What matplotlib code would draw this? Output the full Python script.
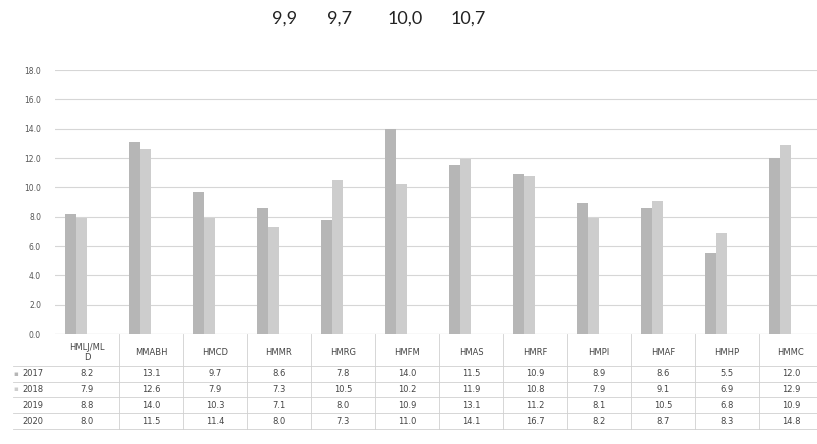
import numpy as np
from matplotlib import pyplot as plt

categories = ['HMLJ/ML\nD', 'MMABH', 'HMCD', 'HMMR', 'HMRG', 'HMFM',
              'HMAS', 'HMRF', 'HMPI', 'HMAF', 'HMHP', 'HMMC']
years = ['2017', '2018', '2019', '2020']
v2017 = [8.2, 13.1, 9.7, 8.6, 7.8, 14.0, 11.5, 10.9, 8.9, 8.6, 5.5, 12.0]
v2018 = [7.9, 12.6, 7.9, 7.3, 10.5, 10.2, 11.9, 10.8, 7.9, 9.1, 6.9, 12.9]
v2019 = [8.8, 14.0, 10.3, 7.1, 8.0, 10.9, 13.1, 11.2, 8.1, 10.5, 6.8, 10.9]
v2020 = [8.0, 11.5, 11.4, 8.0, 7.3, 11.0, 14.1, 16.7, 8.2, 8.7, 8.3, 14.8]
series = [v2017, v2018, v2019, v2020]
bar_colors = ['#b6b6b6', '#cdcdcd']

fig = plt.figure(figsize=(8.17, 4.44), dpi=100)
ax = fig.add_axes([55/817, 1 - 334/444, 768/817, 264/444])

x = np.arange(len(categories))
w = 0.17
# only the first two years have bars in the chart
ax.bar(x - 1.5*w, v2017, w, color=bar_colors[0], zorder=2)
ax.bar(x - 0.5*w, v2018, w, color=bar_colors[1], zorder=2)

ax.set_xlim(-0.5, len(categories) - 0.5)
ax.set_ylim(0, 18)
ax.set_yticks(np.arange(0, 18.1, 2))
ax.set_yticklabels(['%.1f' % t for t in np.arange(0, 18.1, 2)])
ax.tick_params(axis='y', length=0, pad=10, labelsize=5.5, labelcolor='#555555')
ax.set_xticks([])
ax.grid(axis='y', color='#d6d6d6', lw=0.8, zorder=0)
for s in ax.spines.values():
    s.set_visible(False)
ax.axhline(0, color='#c8c8c8', lw=0.8, zorder=1)

# data table under the chart
txt = dict(fontsize=6, color='#444444', ha='center', va='center',
           transform=ax.get_xaxis_transform(), clip_on=False)
head_y = -0.07
row_y = [-0.15, -0.21, -0.27, -0.33]
for i, c in enumerate(categories):
    ax.text(i, head_y, c, linespacing=1.1, **txt)
    for r, vals in enumerate(series):
        ax.text(i, row_y[r], '%.1f' % vals[i], **txt)
for r, yr in enumerate(years):
    ax.text(-0.68, row_y[r], yr, fontsize=6, color='#444444', ha='right', va='center',
            transform=ax.get_xaxis_transform(), clip_on=False)
    if r < 2:
        ax.text(-1.08, row_y[r], '\u25aa', fontsize=5, color=bar_colors[r], ha='right',
                va='center', transform=ax.get_xaxis_transform(), clip_on=False)

line = dict(color='#d0d0d0', lw=0.6, transform=ax.get_xaxis_transform(), clip_on=False)
for i in range(len(categories)):
    ax.plot([i + 0.5, i + 0.5], [0, -0.36], **line)
for yb in [-0.12, -0.18, -0.24, -0.30, -0.36]:
    ax.plot([-1.15, len(categories) - 0.5], [yb, yb], **line)

# yearly averages above the chart
means = [np.mean(s) for s in series]
mean_x = [285, 340, 405, 468]
for mx, m in zip(mean_x, means):
    fig.text(mx/817, 1 - 19/444, ('%.1f' % m).replace('.', ','), fontsize=13,
             family='Lato', color='#222222', ha='center', va='center')

fig.savefig('out.png', dpi=100, facecolor='white')
